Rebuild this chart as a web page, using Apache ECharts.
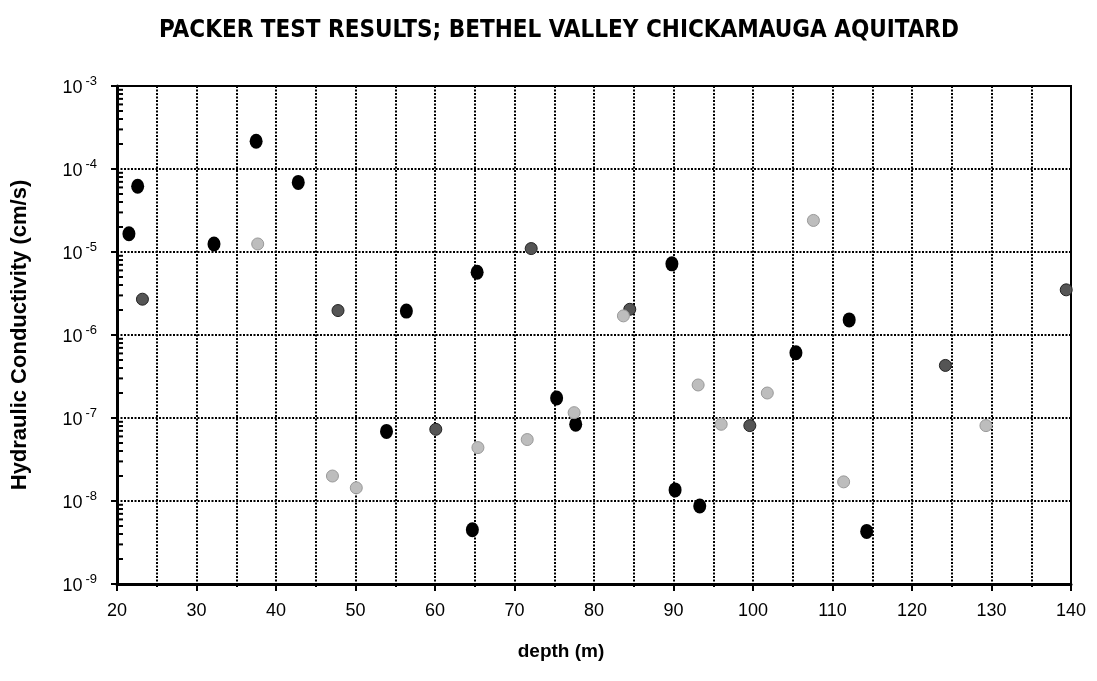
<!DOCTYPE html>
<html>
<head>
<meta charset="utf-8">
<script src="https://cdn.jsdelivr.net/npm/echarts@6/dist/echarts.min.js"></script>
<style>html,body{margin:0;padding:0;background:#fff;}#c{width:1097px;height:681px;}</style>
</head>
<body>
<div id="c"></div>
<script>
// depth (m) / hydraulic conductivity (cm/s)
const blackDepth = [21.5, 22.6, 32.2, 37.5, 42.8, 53.9, 56.4, 64.7, 65.3, 75.3, 77.7, 89.8, 90.2, 93.3, 105.4, 112.1, 114.3];
const blackK     = [1.66e-5, 6.2e-5, 1.25e-5, 2.16e-4, 6.9e-5, 6.9e-8, 1.94e-6, 4.5e-9, 5.7e-6, 1.74e-7, 8.4e-8, 7.2e-6, 1.36e-8, 8.7e-9, 6.1e-7, 1.52e-6, 4.3e-9];

const darkDepth = [23.2, 47.8, 60.1, 72.1, 84.5, 99.6, 124.2, 139.4];
const darkK     = [2.7e-6, 1.97e-6, 7.3e-8, 1.1e-5, 2.04e-6, 8.1e-8, 4.3e-7, 3.5e-6];

const lightDepth = [37.7, 47.1, 50.1, 65.4, 71.6, 77.5, 83.7, 93.1, 96.0, 101.8, 107.6, 111.4, 129.3];
const lightK     = [1.25e-5, 2.0e-8, 1.44e-8, 4.4e-8, 5.5e-8, 1.16e-7, 1.7e-6, 2.5e-7, 8.4e-8, 2.0e-7, 2.4e-5, 1.7e-8, 8.1e-8];

const xTickLabels = ['20','30','40','50','60','70','80','90','100','110','120','130','140'];
const yDecades = [-9, -8, -7, -6, -5, -4, -3];

const zip = (a, b) => a.map((v, i) => [v, b[i]]);

// minor log ticks on the y axis (2..9 x 10^n)
const minorTickVals = [];
for (let i = 0; i < yDecades.length - 1; i++) {
  for (let k = 2; k <= 9; k++) minorTickVals.push([20, k * Math.pow(10, yDecades[i])]);
}

const gridLine = { color: '#000', width: 2, type: [2, 1.5] };

const chart = echarts.init(document.getElementById('c'));
chart.setOption({
  animation: false,
  backgroundColor: '#fff',
  title: {
    text: 'PACKER TEST RESULTS; BETHEL VALLEY CHICKAMAUGA AQUITARD',
    left: 154, top: 14,
    textStyle: { fontFamily: 'DejaVu Sans Condensed, Liberation Sans, sans-serif', fontWeight: 'bold', fontSize: 24, color: '#000' }
  },
  grid: { left: 117, right: 26, top: 86, bottom: 97, show: true, borderColor: '#000', borderWidth: 2, backgroundColor: 'transparent' },
  xAxis: {
    type: 'value', min: 20, max: 140, interval: 10,
    name: 'depth (m)', nameLocation: 'middle', nameGap: 58,
    nameTextStyle: { fontFamily: 'Liberation Sans', fontWeight: 'bold', fontSize: 19, color: '#000', padding: [0, 66, 0, 0] },
    axisLine: { show: true, lineStyle: { color: '#000', width: 3 } },
    axisTick: { show: true, length: 7, lineStyle: { color: '#000', width: 2 } },
    minorTick: { show: true, splitNumber: 2, length: 3, lineStyle: { color: '#000', width: 2 } },
    axisLabel: {
      color: '#000', fontSize: 18, fontFamily: 'Liberation Sans', margin: 18,
      formatter: v => xTickLabels[Math.round((v - 20) / 10)]
    },
    splitLine: { show: true, lineStyle: gridLine },
    minorSplitLine: { show: true, lineStyle: gridLine }
  },
  yAxis: {
    type: 'log', logBase: 10, min: 1e-9, max: 1e-3,
    name: 'Hydraulic Conductivity (cm/s)', nameLocation: 'middle', nameGap: 86,
    nameTextStyle: { fontFamily: 'Liberation Sans', fontWeight: 'bold', fontSize: 22, color: '#000' },
    axisLine: { show: true, lineStyle: { color: '#000', width: 3 } },
    axisTick: { show: true, length: 6, inside: false, lineStyle: { color: '#000', width: 2 } },
    axisLabel: {
      margin: 20,
      formatter: v => '{b|10}{s|' + Math.round(Math.log10(v)) + '}',
      rich: {
        b: { fontSize: 18, fontFamily: 'Liberation Sans', color: '#000', padding: [4, 3, 0, 0] },
        s: { fontSize: 13, fontFamily: 'Liberation Sans', color: '#000', verticalAlign: 'top', padding: [0, 0, 8, 0] }
      }
    },
    splitLine: { show: true, lineStyle: gridLine }
  },
  series: [
    {
      type: 'custom', name: 'minorTicks', silent: true, z: 5,
      data: minorTickVals,
      renderItem: (params, api) => {
        const p = api.coord([api.value(0), api.value(1)]);
        return { type: 'line', shape: { x1: p[0], y1: p[1], x2: p[0] + 6, y2: p[1] }, style: { stroke: '#000', lineWidth: 2 } };
      }
    },
    {
      type: 'scatter', name: 'dark', data: zip(darkDepth, darkK), z: 6,
      symbol: 'circle', symbolSize: 12,
      itemStyle: { color: '#555', borderColor: '#222', borderWidth: 1, opacity: 1 }
    },
    {
      type: 'scatter', name: 'black', data: zip(blackDepth, blackK), z: 7,
      symbol: 'circle', symbolSize: [13, 15],
      itemStyle: { color: '#000', opacity: 1 }
    },
    {
      type: 'scatter', name: 'light', data: zip(lightDepth, lightK), z: 8,
      symbol: 'circle', symbolSize: 12,
      itemStyle: { color: '#bdbdbd', borderColor: '#999', borderWidth: 1, opacity: 1 }
    }
  ]
});
</script>
</body>
</html>
